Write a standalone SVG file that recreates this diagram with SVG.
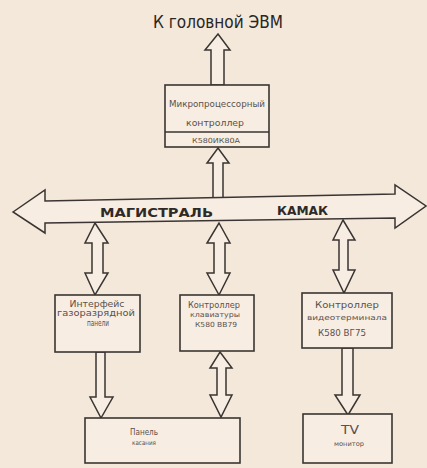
<svg xmlns="http://www.w3.org/2000/svg" width="427" height="468" viewBox="0 0 427 468">
<style>
.bg{fill:#f4e8db}
.box{fill:#f7ede2;stroke:#3a3532;stroke-width:1.6}
.arr{fill:#f7ede2;stroke:#3a3532;stroke-width:1.5;stroke-linejoin:miter}
.t{font-family:"DejaVu Sans Condensed","DejaVu Sans",sans-serif;fill:#5a514c;text-anchor:middle}
.title{font-family:"DejaVu Sans Condensed","DejaVu Sans",sans-serif;fill:#2a2624;font-size:18px}
.bus{font-family:"DejaVu Sans","Liberation Sans",sans-serif;font-weight:bold;fill:#2e2a28;font-size:12px}
</style>
<rect class="bg" x="0" y="0" width="427" height="468"/>
<text class="title" x="153" y="28" textLength="130" lengthAdjust="spacingAndGlyphs">К головной ЭВМ</text>
<g id="connectors">
  <polygon class="arr" points="218,34 230,50 224,50 224,85 211,85 211,50 205,50"/>
  <polygon class="arr" points="218,148 229,163 223,163 223,198 213,198 213,163 207,163"/>
  <polygon class="arr" points="95,223 108,243 103,243 103,273 108,273 95,295 85,273 92,273 92,243 85,243"/>
  <polygon class="arr" points="219,223 230,243 225,243 225,273 230,273 219,295 207,273 214,273 214,243 207,243"/>
  <polygon class="arr" points="343,220 355,240 348,240 348,270 355,270 344,293 333,270 339,270 339,240 333,240"/>
  <polygon class="arr" points="220,352 232,368 226,368 226,395 232,395 221,417 210,395 217,395 217,368 210,368"/>
  <polygon class="arr" points="96,352 105,352 105,397 113,397 101,418 90,397 96,397"/>
  <polygon class="arr" points="342,348 353,348 353,395 360,395 348,415 335,395 342,395"/>
</g>
<g id="bus">
  <polygon class="arr" points="13,212 45,190 45,201 395,194 395,185 426,206 395,228 395,218 45,223 45,233"/>
  <text class="bus" x="100" y="217" textLength="113" lengthAdjust="spacingAndGlyphs">МАГИСТРАЛЬ</text>
  <text class="bus" x="277" y="215" textLength="51" lengthAdjust="spacingAndGlyphs">КАМАК</text>
</g>
<g id="micro">
  <rect class="box" x="165" y="85" width="104" height="62"/>
  <line x1="165" y1="132" x2="269" y2="132" stroke="#3a3532" stroke-width="1.4"/>
  <text class="t" x="217" y="107" font-size="9" textLength="96" lengthAdjust="spacingAndGlyphs">Микропроцессорный</text>
  <text class="t" x="215" y="126" font-size="8" textLength="58" lengthAdjust="spacingAndGlyphs">контроллер</text>
  <text class="t" x="216" y="143" font-size="7" textLength="48" lengthAdjust="spacingAndGlyphs">К580ИК80А</text>
</g>
<g id="iface">
  <rect class="box" x="55" y="295" width="85" height="57"/>
  <text class="t" x="97" y="307" font-size="9" textLength="55" lengthAdjust="spacingAndGlyphs">Интерфейс</text>
  <text class="t" x="96" y="316" font-size="8" textLength="78" lengthAdjust="spacingAndGlyphs">газоразрядной</text>
  <text class="t" x="98" y="326" font-size="8" textLength="22" lengthAdjust="spacingAndGlyphs">панели</text>
</g>
<g id="kbd">
  <rect class="box" x="180" y="295" width="74" height="56"/>
  <text class="t" x="214" y="308" font-size="8" textLength="52" lengthAdjust="spacingAndGlyphs">Контроллер</text>
  <text class="t" x="215" y="317" font-size="7" textLength="50" lengthAdjust="spacingAndGlyphs">клавиатуры</text>
  <text class="t" x="216" y="327" font-size="7" textLength="42" lengthAdjust="spacingAndGlyphs">К580 ВВ79</text>
</g>
<g id="video">
  <rect class="box" x="302" y="293" width="90" height="55"/>
  <text class="t" x="347" y="308" font-size="9" textLength="64" lengthAdjust="spacingAndGlyphs">Контроллер</text>
  <text class="t" x="347" y="320" font-size="7" textLength="80" lengthAdjust="spacingAndGlyphs">видеотерминала</text>
  <text class="t" x="342" y="336" font-size="8" textLength="48" lengthAdjust="spacingAndGlyphs">К580 ВГ75</text>
</g>
<g id="panel">
  <rect class="box" x="85" y="418" width="155" height="45"/>
  <text class="t" x="144" y="435" font-size="9" textLength="28" lengthAdjust="spacingAndGlyphs">Панель</text>
  <text class="t" x="144" y="445" font-size="6.5" textLength="24" lengthAdjust="spacingAndGlyphs">касания</text>
</g>
<g id="tv">
  <rect class="box" x="303" y="414" width="89" height="49"/>
  <text class="t" x="350" y="434" font-size="13" textLength="18" lengthAdjust="spacingAndGlyphs">TV</text>
  <text class="t" x="349" y="446" font-size="6.5" textLength="30" lengthAdjust="spacingAndGlyphs">монитор</text>
</g>
</svg>
